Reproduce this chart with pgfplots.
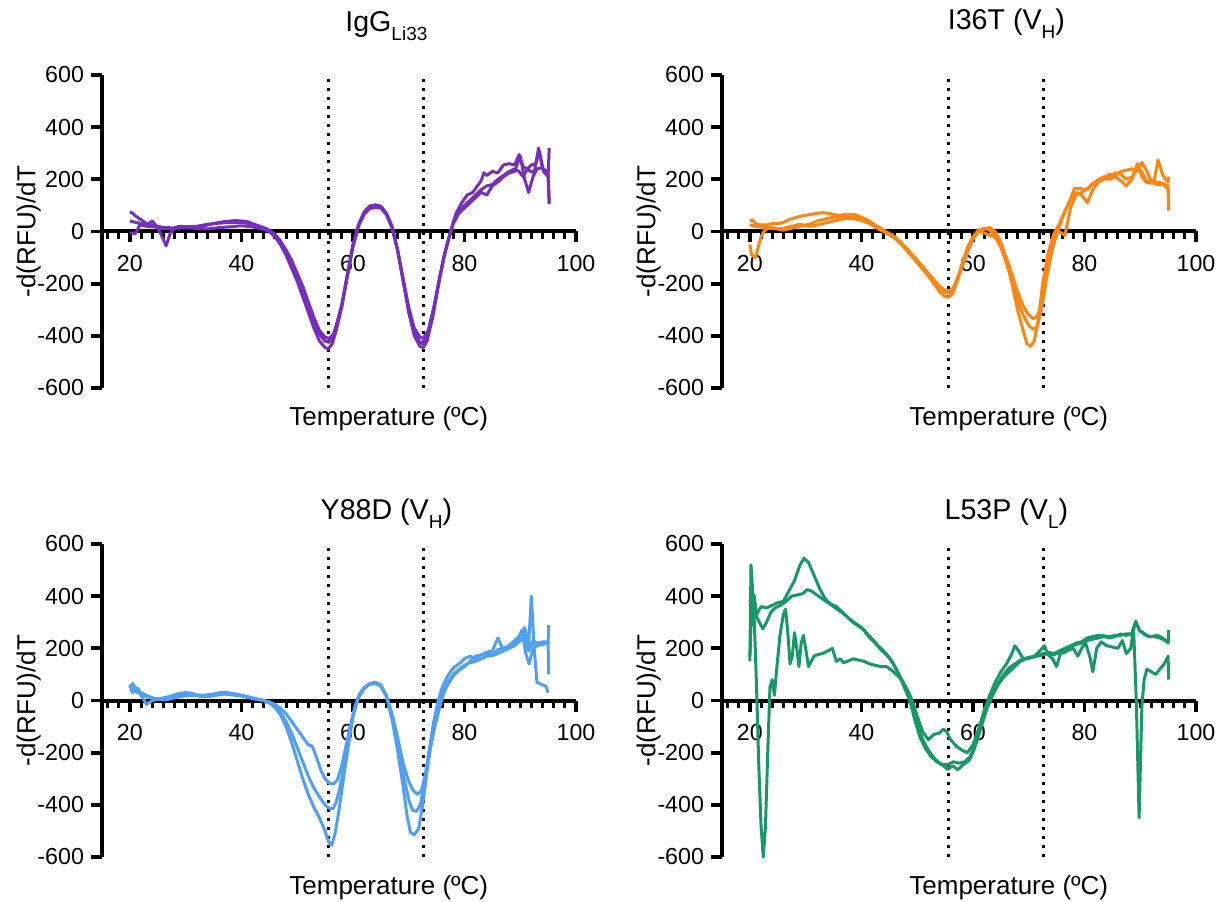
\documentclass[border=0pt]{standalone}
\usepackage{fontspec}
\setmainfont{Liberation Sans}
\usepackage{pgfplots}
\pgfplotsset{compat=1.18}

\definecolor{cpurple}{RGB}{118,46,188}
\definecolor{corange}{RGB}{255,133,20}
\definecolor{cblue}{RGB}{80,158,245}
\definecolor{cgreen}{RGB}{24,152,104}

\newcommand{\sbs}[1]{\raisebox{-0.3em}{\fontsize{9.5}{10}\selectfont #1}}

\pgfplotsset{
  dsf/.style={
    width=237pt, height=156.5pt, scale only axis,
    xmin=15, xmax=100, ymin=-600, ymax=600,
    axis x line=middle, axis y line=left,
    axis line style={-, line width=2pt, black},
    every inner x axis line/.append style={line width=2pt},
    every outer y axis line/.append style={line width=2pt},
    xtick={20,40,60,80,100}, ytick={-600,-400,...,600},
    minor xtick={16,18,...,98},
    tick align=outside,
    major tick length=5.5pt, minor tick length=3.6pt,
    major tick style={line width=1.9pt, black},
    minor tick style={line width=1.5pt, black},
    hide obscured x ticks=false, hide obscured y ticks=false,
    /pgf/number format/assume math mode=true,
    tick label style={font=\fontsize{11.6}{13}\selectfont},
    xticklabel style={yshift=-3pt},
    every axis x label/.style={at={(axis description cs:0.605,0)}, anchor=north, yshift=-6pt, font=\fontsize{13}{15}\selectfont},
    every axis y label/.style={at={(axis description cs:-0.155,0.5)}, rotate=90, anchor=center, font=\fontsize{13}{15}\selectfont},
    title style={at={(axis description cs:0.6,1)}, anchor=base, font=\fontsize{14.3}{16}\selectfont},
    xlabel={Temperature (ºC)}, ylabel={-d(RFU)/dT},
    clip=false,
    every axis plot/.append style={line width=1.5pt, line join=round},
  },
  vref/.style={black, line width=1.5pt, dash pattern=on 1.4pt off 3.1pt},
}

\begin{document}
\begin{tikzpicture}
\path[use as bounding box] (0,0) rectangle (613.5pt,450.5pt);

% ---------------- IgG Li33
\begin{axis}[dsf, at={(51pt,256.5pt)}, anchor=south west, title={IgG\sbs{Li33}}, title style={yshift=15.5pt}]
\addplot[vref] coordinates {(55.7,-600) (55.7,600)};
\addplot[vref] coordinates {(72.6,-600) (72.6,600)};
\addplot[cpurple] coordinates {
(20,75) (20.5,70) (21,60) (22,45) (23,30) (24,25) (25,20) (26,15) (27,15) (28,12) (29,15) (30,18)
(31,15) (32,18) (33,20) (34,25) (35,30) (36,35) (37,38) (38,40) (39,42) (40,40) (41,38) (42,30)
(43,22) (44,12) (45,0) (46,-15) (47,-40) (48,-70) (49,-110) (50,-160) (51,-210) (52,-270) (53,-330)
(54,-380) (55,-405) (55.7,-410) (56.5,-395) (57,-360) (58,-280) (59,-170) (60,-60) (61,20) (62,65)
(63,88) (64,92) (65,90) (66,65) (67,15) (68,-70) (69,-180) (70,-290) (71,-370) (72,-405) (72.6,-410)
(73.5,-380) (74.5,-290) (75.5,-180) (76.5,-80) (77.5,0) (78.5,70) (79.5,110) (80.5,140) (81.5,150)
(82,165) (83,195) (83.5,225) (84,215) (85,230) (86,225) (87,255) (88,260) (89,255) (89.8,295)
(90.5,250) (91.5,235) (92.5,225) (93.3,320) (94,240) (95,230) (95.2,110)};
\addplot[cpurple] coordinates {
(20,-5) (21,-8) (21.8,25) (23,20) (24,20) (25,15) (26,10) (27,10) (28,12) (30,15) (32,12) (34,10)
(36,15) (38,18) (40,22) (42,18) (44,8) (45,0) (46,-20) (47,-50) (48,-90) (49,-140) (50,-190)
(51,-250) (52,-310) (53,-370) (54,-420) (55,-445) (55.6,-450) (56.3,-430) (57,-380) (58,-290)
(59,-170) (60,-55) (61,25) (62,75) (63,98) (64,102) (65,97) (66,70) (67,20) (68,-70) (69,-190)
(70,-310) (71,-400) (72,-440) (72.6,-445) (73.3,-420) (74.3,-330) (75.3,-210) (76.3,-100) (77.3,-20)
(78,30) (79,70) (80,90) (81,110) (82,130) (83,150) (84,140) (85,175) (86,190) (87,210) (88,225)
(89,230) (90,290) (90.8,200) (91.5,150) (92.3,210) (93,240) (94,245) (95,215) (95.2,320)};
\addplot[cpurple] coordinates {
(20,40) (21,35) (22,30) (23,25) (24,40) (25,15) (26,-30) (26.5,-55) (27.2,-10) (28,15) (29,20)
(30,18) (32,20) (34,28) (36,32) (38,35) (40,35) (42,28) (44,15) (45,5) (46,-10) (47,-35) (48,-75)
(49,-120) (50,-175) (51,-230) (52,-290) (53,-350) (54,-395) (55,-420) (55.7,-425) (56.4,-410)
(57,-370) (58,-285) (59,-165) (60,-50) (61,25) (62,70) (63,93) (64,98) (65,94) (66,68) (67,18)
(68,-72) (69,-185) (70,-300) (71,-385) (72,-425) (72.6,-430) (73.4,-400) (74.4,-310) (75.4,-195)
(76.4,-90) (77.4,-10) (78.2,50) (79,80) (80,100) (81,120) (82,140) (83,160) (84,175) (85,180)
(86,200) (87,215) (88,230) (89,240) (89.8,230) (90.5,210) (91.3,240) (92,255) (92.8,260) (93.4,310)
(94.2,230) (95,210) (95.2,105)};
\end{axis}

% ---------------- I36T (VH)
\begin{axis}[dsf, at={(361pt,256.5pt)}, anchor=south west, title={I36T (V\sbs{H})}, title style={yshift=16.5pt}]
\addplot[vref] coordinates {(55.7,-600) (55.7,600)};
\addplot[vref] coordinates {(72.6,-600) (72.6,600)};
\addplot[corange] coordinates {
(20,-50) (20.3,-90) (21,-100) (21.5,-60) (22,-20) (22.5,0) (23,10) (24,15) (25,10) (26,5) (27,10)
(28,15) (29,20) (30,25) (31,30) (32,40) (33,45) (34,50) (35,55) (36,55) (37,58) (38,60) (39,55)
(40,45) (41,35) (42,25) (43,10) (44,0) (45,-10) (46,-25) (47,-45) (48,-70) (49,-95) (50,-120)
(51,-145) (52,-170) (53,-200) (54,-230) (55,-250) (55.6,-252) (56.3,-240) (57,-200) (58,-140)
(59,-80) (60,-30) (61,0) (62,10) (63,15) (64,0) (65,-40) (66,-110) (67,-200) (68,-300) (69,-380)
(69.7,-430) (70.3,-440) (71,-420) (71.8,-330) (72.5,-200) (73.5,-80) (74.5,-10) (75.5,30) (76.5,80)
(77.5,120) (78.5,150) (79.5,140) (80.5,110) (81.5,160) (82.5,190) (83.5,200) (84.5,205) (85.5,225)
(86.5,220) (87.5,200) (88.5,210) (89.5,240) (90.3,230) (91,195) (92,190) (93,180) (93.8,180)
(94.5,175) (95,160) (95.1,80)};
\addplot[corange] coordinates {
(20,40) (20.5,45) (21,30) (22,25) (23,25) (24,30) (25,30) (26,35) (27,45) (28,52) (29,58) (30,62)
(31,66) (32,70) (33,72) (34,70) (35,65) (36,62) (37,65) (38,66) (39,64) (40,55) (41,45) (42,32)
(43,18) (44,5) (45,-8) (46,-20) (47,-40) (48,-62) (49,-85) (50,-110) (51,-135) (52,-160) (53,-185)
(54,-210) (55,-225) (55.8,-228) (56.5,-215) (57.3,-175) (58.2,-115) (59.2,-55) (60.2,-15) (61,5)
(62,12) (63,5) (64,-20) (65,-60) (66,-120) (67,-190) (68,-260) (69,-320) (70,-360) (70.8,-375)
(71.5,-365) (72.3,-300) (73.2,-180) (74.2,-70) (75.2,0) (76.2,60) (77.2,110) (78.2,165) (79.2,165)
(80.5,160) (81.5,185) (82.5,195) (83.5,205) (84.5,220) (85.5,215) (86.5,230) (87.5,235) (88.5,240)
(89.5,230) (90.3,265) (91,240) (91.8,200) (92.5,195) (93.2,275) (94,220) (94.5,200) (95,190) (95.1,210)};
\addplot[corange] coordinates {
(20,25) (21,20) (22,18) (23,15) (24,12) (25,10) (26,12) (27,18) (28,22) (29,28) (30,22) (31,20)
(32,25) (33,30) (34,35) (35,40) (36,45) (37,50) (38,50) (39,48) (40,42) (41,35) (42,25) (43,12)
(44,0) (45,-12) (46,-25) (47,-45) (48,-65) (49,-90) (50,-115) (51,-140) (52,-165) (53,-190)
(54,-215) (55,-232) (55.7,-235) (56.4,-225) (57.2,-185) (58.1,-125) (59,-65) (60,-20) (61,2)
(62,-5) (63,-15) (64,-20) (65,-50) (66,-100) (67,-165) (68,-230) (69,-285) (70,-320) (70.9,-335)
(71.7,-320) (72.5,-250) (73.3,-150) (74.2,-60) (75,0) (75.8,-5) (76.5,-15) (77.5,90) (78.5,140)
(79.5,150) (80.5,165) (81.5,180) (82.5,200) (83.5,210) (84.5,200) (85.5,210) (86.5,195) (87.5,175)
(88.5,200) (89.5,260) (90.3,210) (91,190) (92,185) (93,190) (94,185) (95,175) (95.1,110)};
\end{axis}

% ---------------- Y88D (VH)
\begin{axis}[dsf, at={(51pt,22pt)}, anchor=south west, title={Y88D (V\sbs{H})}, title style={yshift=6pt}]
\addplot[vref] coordinates {(55.7,-600) (55.7,600)};
\addplot[vref] coordinates {(72.6,-600) (72.6,600)};
\addplot[cblue] coordinates {
(20,60) (20.5,30) (21,50) (21.5,45) (22,20) (23,-15) (24,0) (25,5) (26,5) (27,8) (28,15) (29,18)
(30,20) (31,22) (32,20) (33,18) (34,20) (35,22) (36,25) (37,25) (38,22) (39,20) (40,18) (41,15)
(42,10) (43,5) (44,0) (45,-10) (46,-25) (47,-55) (48,-100) (49,-160) (50,-230) (51,-300) (52,-360)
(53,-410) (54,-450) (55,-500) (55.6,-540) (56.2,-555) (56.8,-510) (57.5,-420) (58.3,-300) (59.2,-170)
(60,-60) (61,10) (62,45) (63,65) (64,70) (65,60) (66,15) (67,-70) (68,-190) (69,-330) (69.7,-440)
(70.3,-505) (71,-515) (71.8,-490) (72.5,-400) (73.3,-270) (74.2,-140) (75,-50) (76,20) (77,70)
(78,100) (79,120) (80,135) (81,145) (82,150) (83,160) (84,170) (85,172) (86,180) (87,190) (88,200)
(89,210) (90,230) (90.8,250) (91.5,190) (92.3,230) (93,220) (94,225) (95,225) (95.1,100)};
\addplot[cblue] coordinates {
(20,40) (21,35) (22,25) (23,15) (24,10) (25,5) (26,10) (27,15) (28,22) (29,28) (30,30) (31,28)
(32,22) (33,20) (34,22) (35,25) (36,30) (37,32) (38,28) (39,25) (40,20) (41,15) (42,8) (43,4) (44,0)
(45,-8) (46,-20) (47,-45) (48,-80) (49,-125) (50,-180) (51,-235) (52,-290) (53,-335) (54,-370)
(55,-400) (55.6,-412) (56.4,-415) (57,-390) (57.7,-330) (58.5,-240) (59.3,-140) (60.1,-50) (61,15)
(62,48) (63,63) (64,65) (65,55) (66,15) (67,-65) (68,-170) (69,-280) (70,-380) (70.7,-420)
(71.4,-425) (72.1,-400) (72.8,-320) (73.6,-200) (74.5,-80) (75.3,0) (76,50) (77,95) (78,125)
(79,140) (80,160) (81,170) (82,160) (83,175) (84,180) (85,175) (86,195) (87,200) (88,210) (89,230)
(90,250) (90.8,280) (91.5,210) (92,400) (92.5,200) (93,70) (94,60) (94.6,55) (95,30)};
\addplot[cblue] coordinates {
(20,50) (20.5,65) (21,45) (22,30) (23,20) (24,10) (25,5) (26,2) (27,5) (28,10) (29,15) (30,18)
(31,20) (32,18) (33,15) (34,15) (35,18) (36,22) (37,25) (38,25) (39,22) (40,18) (41,12) (42,8)
(43,3) (44,0) (45,-5) (46,-15) (47,-30) (48,-50) (49,-80) (50,-110) (51,-140) (52,-170) (52.7,-175)
(53.5,-220) (54.3,-270) (55,-300) (55.8,-318) (56.5,-320) (57.2,-305) (58,-250) (58.8,-170)
(59.6,-90) (60.4,-20) (61.2,25) (62,50) (63,62) (64,68) (65,58) (66,20) (67,-50) (68,-140)
(69,-240) (70,-310) (70.8,-345) (71.6,-360) (72.3,-345) (73,-280) (73.8,-190) (74.7,-100)
(75.5,-30) (76.3,30) (77,60) (78,95) (79,115) (80,130) (81,150) (82,170) (83,175) (84,185) (85,190)
(86,240) (86.8,200) (87.5,200) (88.5,210) (89.5,230) (90.3,270) (91,180) (91.6,140) (92.3,200)
(93,210) (94,215) (95,220) (95.1,290)};
\end{axis}

% ---------------- L53P (VL)
\begin{axis}[dsf, at={(361pt,22pt)}, anchor=south west, title={L53P (V\sbs{L})}, title style={yshift=6pt}]
\addplot[vref] coordinates {(55.7,-600) (55.7,600)};
\addplot[vref] coordinates {(72.6,-600) (72.6,600)};
\addplot[cgreen] coordinates {
(20,150) (20.2,520) (20.7,350) (21.2,330) (22,360) (23,355) (24,365) (25,375) (26,380) (27,420)
(28,460) (29,520) (29.7,545) (30.5,530) (31.5,480) (32.5,430) (33.5,390) (34.5,370) (35.5,360)
(36.5,340) (37.5,320) (38.5,300) (39.5,285) (40.5,270) (41.5,240) (42.5,220) (43.5,195) (44.5,175)
(45.5,150) (46.5,110) (47.5,60) (48.5,10) (49.2,-40) (50,-90) (51,-150) (52,-190) (53,-220)
(54,-240) (55,-255) (55.5,-265) (56.3,-250) (57.3,-265) (58.3,-245) (59.3,-230) (60,-200)
(60.8,-150) (61.5,-100) (62.5,-30) (63.5,20) (64.5,60) (65.5,90) (66.5,110) (67.5,130) (68.5,150)
(69.5,160) (70.5,165) (71.5,170) (72.5,180) (73.5,185) (74.5,180) (75.5,190) (76.5,200) (77.5,210)
(78.5,220) (79.5,225) (80.5,240) (81.5,245) (82.5,250) (83.5,248) (84.5,245) (85.5,250) (86.5,250)
(87.5,255) (88.5,255) (89.2,305) (89.8,270) (90.5,260) (91.5,245) (92.5,245) (93.5,240) (94.5,230)
(95,230) (95.1,270)};
\addplot[cgreen] coordinates {
(20,380) (20.4,410) (20.8,400) (21.2,320) (21.7,300) (22.3,275) (23,300) (23.8,340) (24.5,355)
(25.5,365) (26.5,380) (27.5,400) (28.5,405) (29.5,410) (30.3,425) (31,420) (32,405) (33,390)
(34,375) (35,360) (36,345) (37,330) (38,310) (39,295) (40,280) (41,255) (42,235) (43,210) (44,190)
(45,165) (46,130) (47,90) (48,45) (48.8,0) (49.5,-70) (50.5,-140) (51.5,-185) (52.5,-215)
(53.5,-235) (54.5,-245) (55.5,-245) (56.5,-235) (57.5,-240) (58.5,-235) (59.5,-215) (60.5,-165)
(61.5,-95) (62.5,-30) (63.5,20) (64.5,65) (65.5,100) (66.5,125) (67.5,140) (68.5,155) (69.5,160)
(70.5,165) (71.5,170) (72.5,175) (73.5,180) (74.5,175) (75.5,185) (76.5,195) (77.5,205) (78.5,215)
(79.5,220) (80.5,230) (81.5,235) (82.5,240) (83.5,245) (84.5,240) (85.5,245) (86.5,255) (87.5,250)
(88.5,255) (89.2,300) (90,265) (91,250) (92,245) (93,250) (94,240) (95,220) (95.1,240)};
\addplot[cgreen] coordinates {
(20,170) (20.4,400) (20.8,300) (21.2,50) (21.6,-250) (22,-480) (22.4,-600) (22.8,-480) (23.2,-200)
(23.6,50) (24,80) (24.4,20) (24.8,120) (25.4,250) (26,330) (26.4,350) (26.8,260) (27.2,140)
(27.6,170) (28,260) (28.4,200) (28.8,130) (29.2,220) (29.6,250) (30,200) (30.5,130) (31,150)
(31.5,170) (32,175) (33,180) (34,190) (34.8,200) (35.5,150) (36.2,160) (36.8,145) (37.5,150)
(38.5,160) (39.5,155) (40.5,150) (41.5,140) (42.5,135) (43.5,130) (44.5,130) (45.5,115) (46.5,95)
(47.5,70) (48.5,30) (49.3,-10) (50,-60) (51,-120) (52,-150) (53,-130) (54,-125) (54.7,-110)
(55.3,-120) (56,-150) (57,-175) (58,-190) (59,-200) (60,-170) (61,-110) (62,-40) (63,20) (64,70)
(65,110) (66,140) (67,180) (67.5,210) (68.2,190) (69,160) (70,165) (71,170) (72,190) (72.8,210)
(73.5,175) (74.3,160) (75,130) (75.7,180) (76.5,185) (77.3,195) (78,200) (78.8,170) (79.5,200)
(80.2,220) (81,165) (81.5,110) (82.2,200) (83,225) (84,210) (85,205) (86,200) (86.8,230) (87.5,180)
(88.3,200) (88.8,280) (89.3,0) (89.8,-450) (90.3,-20) (90.7,80) (91.2,120) (92,110) (92.8,100)
(93.5,120) (94.3,140) (95,170) (95.1,80)};
\end{axis}
\end{tikzpicture}
\end{document}
